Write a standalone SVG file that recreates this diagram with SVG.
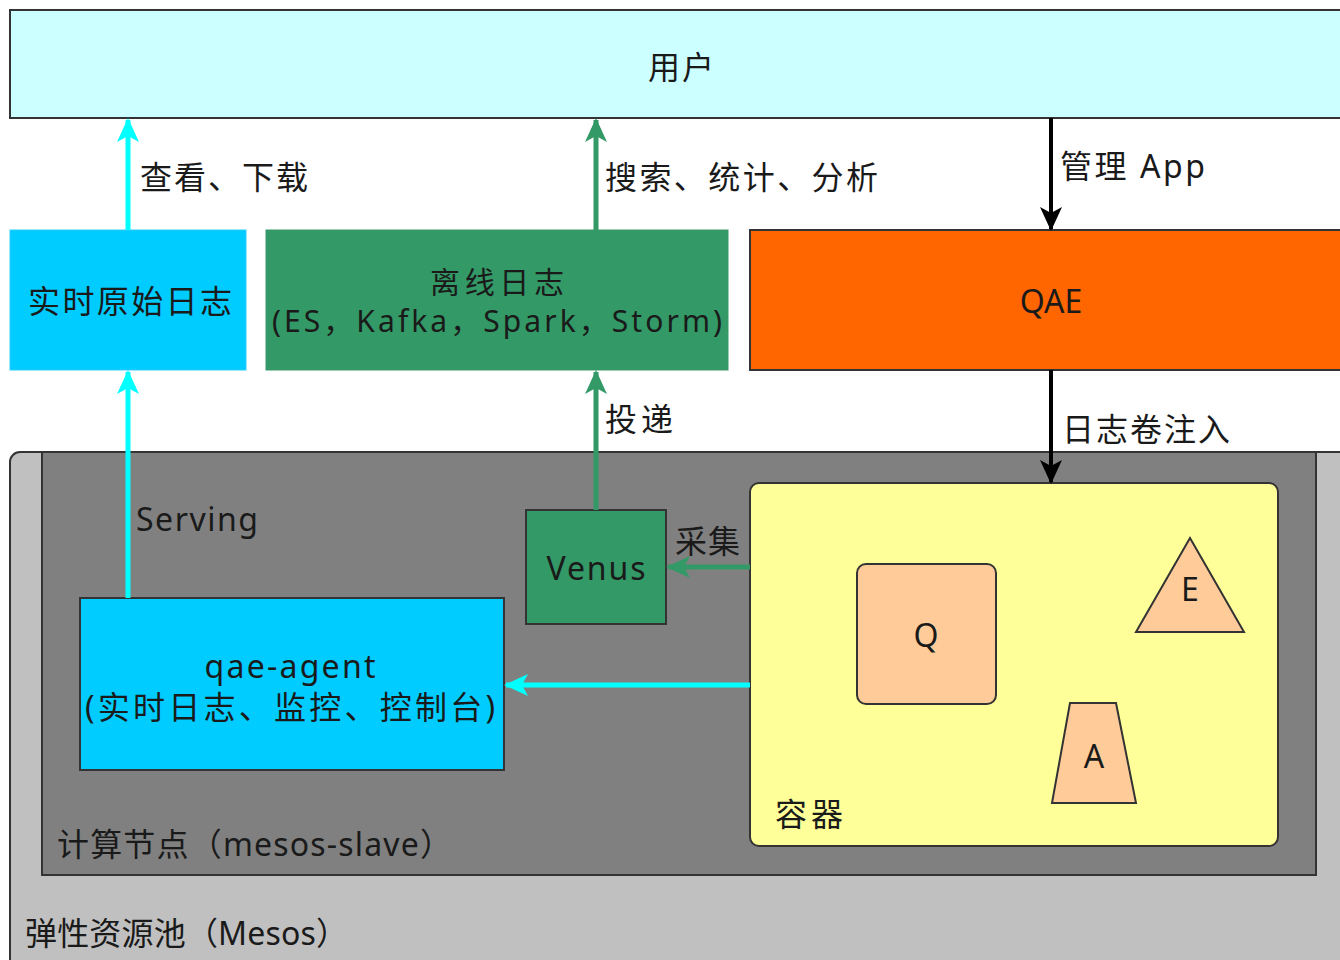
<svg xmlns="http://www.w3.org/2000/svg" width="1340" height="960" viewBox="0 0 1340 960">
<style>
text{font-family:"Noto Sans","Noto Sans CJK SC",sans-serif;font-size:32px;fill:#1a1a1a;dominant-baseline:central}
.c{text-anchor:middle}
.s{font-size:30px}
.box{stroke:#333;stroke-width:2}
.cy{stroke:#00ffff;stroke-width:5;fill:none}
.gr{stroke:#339966;stroke-width:5;fill:none}
.bk{stroke:#000;stroke-width:4;fill:none}
</style>
<defs>
<marker id="ac" markerUnits="userSpaceOnUse" markerWidth="24" markerHeight="22" refX="22" refY="11" orient="auto"><path d="M0,0 L24,11 L0,22 L6,11 z" fill="#00ffff"/></marker>
<marker id="ag" markerUnits="userSpaceOnUse" markerWidth="24" markerHeight="22" refX="22" refY="11" orient="auto"><path d="M0,0 L24,11 L0,22 L6,11 z" fill="#339966"/></marker>
<marker id="ab" markerUnits="userSpaceOnUse" markerWidth="24" markerHeight="22" refX="22" refY="11" orient="auto"><path d="M0,0 L24,11 L0,22 L6,11 z" fill="#000"/></marker>
</defs>
<rect width="1340" height="960" fill="#fff"/>
<g id="user"><rect class="box" x="10" y="10" width="1340" height="108" fill="#ccffff"/><text class="c" x="681" y="66" textLength="66">用户</text></g>
<g id="mesos"><rect class="box" x="10" y="452" width="1340" height="520" rx="10" fill="#c0c0c0"/><text x="25" y="932" textLength="323">弹性资源池（Mesos）</text></g>
<g id="slave"><rect class="box" x="42" y="452" width="1274" height="423" fill="#808080"/><text x="57" y="843" textLength="395">计算节点（mesos-slave）</text></g>
<g id="realtime"><rect x="10" y="230" width="236" height="140" fill="#00ccff" stroke="#33ccff" stroke-width="1"/><text class="c" x="130" y="300" textLength="204">实时原始日志</text></g>
<g id="offline"><rect x="266" y="230" width="462" height="140" fill="#339966" stroke="#3a9a6a" stroke-width="1"/><text class="c s" x="497" y="281" textLength="134">离线日志</text><text class="c s" x="497" y="320" textLength="450" lengthAdjust="spacing">(ES，Kafka，Spark，Storm)</text></g>
<g id="qae"><rect class="box" x="750" y="230" width="600" height="140" fill="#ff6600"/><text class="c" x="1051" y="300">QAE</text></g>
<g id="container"><rect class="box" x="750" y="483" width="528" height="363" rx="9" fill="#ffff99"/><text x="775" y="813" textLength="68">容器</text></g>
<g id="q"><rect class="box" x="857" y="564" width="139" height="140" rx="9" fill="#ffcc99"/><text class="c" x="926" y="634">Q</text></g>
<g id="e"><polygon class="box" points="1190,538 1244,632 1136,632" fill="#ffcc99"/><text class="c" x="1190" y="588">E</text></g>
<g id="a"><polygon class="box" points="1070,703 1116,703 1136,803 1052,803" fill="#ffcc99"/><text class="c" x="1094" y="755">A</text></g>
<g id="venus"><rect class="box" x="526" y="510" width="140" height="114" fill="#339966"/><text class="c" x="596" y="567" textLength="99">Venus</text></g>
<g id="agent"><rect class="box" x="80" y="598" width="424" height="172" fill="#00ccff"/><text class="c" x="290" y="665" textLength="171">qae-agent</text><text class="c" x="290" y="706" textLength="410" lengthAdjust="spacing">(实时日志、监控、控制台)</text></g>
<g id="connectors">
<line class="cy" x1="128" y1="230" x2="128" y2="120" marker-end="url(#ac)"/>
<line class="gr" x1="596" y1="230" x2="596" y2="120" marker-end="url(#ag)"/>
<line class="bk" x1="1051" y1="118" x2="1051" y2="229" marker-end="url(#ab)"/>
<line class="cy" x1="128" y1="598" x2="128" y2="372" marker-end="url(#ac)"/>
<line class="gr" x1="596" y1="510" x2="596" y2="372" marker-end="url(#ag)"/>
<line class="bk" x1="1051" y1="370" x2="1051" y2="482" marker-end="url(#ab)"/>
<line class="gr" x1="750" y1="567" x2="668" y2="567" marker-end="url(#ag)"/>
<line class="cy" x1="750" y1="685" x2="506" y2="685" marker-end="url(#ac)"/>
<text x="140" y="176" textLength="168">查看、下载</text>
<text x="605" y="176" textLength="273">搜索、统计、分析</text>
<text x="1060" y="165" textLength="145">管理 App</text>
<text x="136" y="518" textLength="122">Serving</text>
<text x="605" y="418" textLength="68">投递</text>
<text x="1062" y="428" textLength="168">日志卷注入</text>
<text x="675" y="540" textLength="65">采集</text>
</g>
</svg>
